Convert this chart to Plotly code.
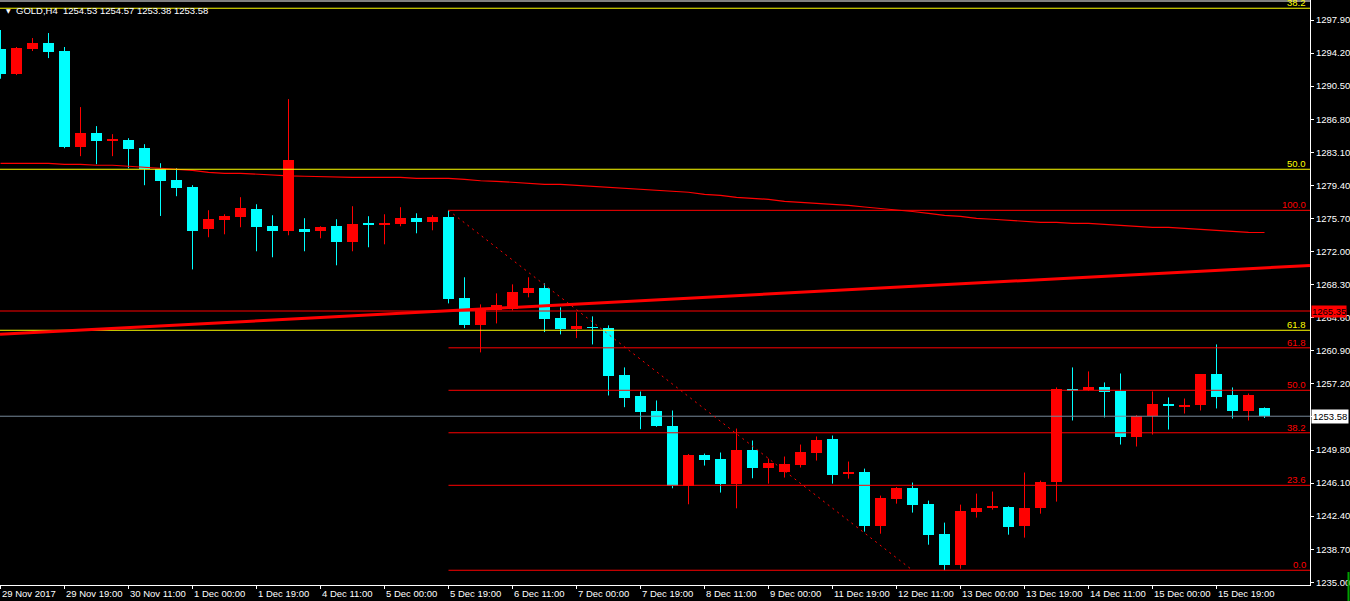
import plotly.graph_objects as go

# ---------------- data ----------------
BAR_INDEX = list(range(80))

OPEN = [1294.65, 1291.89, 1294.65, 1295.32, 1294.43, 1283.68, 1285.24, 1284.40, 1284.46, 1283.56,
        1281.21, 1279.98, 1279.20, 1274.49, 1275.50, 1275.84, 1276.73, 1274.83, 1274.27, 1274.49,
        1274.27, 1274.83, 1273.04, 1275.10, 1275.00, 1275.05, 1275.72, 1275.28, 1275.84, 1266.76,
        1263.74, 1265.42, 1265.53, 1267.32, 1267.88, 1264.52, 1263.29, 1263.50, 1263.40, 1258.14,
        1255.79, 1254.11, 1252.54, 1245.82, 1249.29, 1248.84, 1246.04, 1249.85, 1247.84, 1247.39,
        1248.17, 1249.52, 1251.08, 1247.20, 1247.39, 1241.34, 1244.36, 1245.60, 1243.80, 1240.44,
        1236.97, 1242.91, 1243.40, 1243.47, 1241.34, 1243.36, 1246.27, 1256.60, 1256.46, 1256.80,
        1256.35, 1251.31, 1253.55, 1255.00, 1254.70, 1254.78, 1258.25, 1255.90, 1254.11, 1254.53]
HIGH = [1296.78, 1294.88, 1295.88, 1296.44, 1294.88, 1288.16, 1286.03, 1285.13, 1284.68, 1284.01,
        1281.88, 1281.32, 1279.42, 1276.62, 1276.17, 1278.08, 1277.29, 1276.06, 1289.05, 1275.73,
        1274.83, 1275.61, 1277.07, 1275.95, 1276.17, 1276.96, 1276.28, 1276.06, 1276.61, 1269.12,
        1266.09, 1267.32, 1268.33, 1269.12, 1268.44, 1265.76, 1265.20, 1264.75, 1263.74, 1259.04,
        1256.35, 1255.34, 1254.22, 1249.35, 1249.40, 1249.52, 1252.20, 1250.86, 1248.84, 1249.07,
        1250.41, 1251.31, 1251.42, 1248.51, 1247.72, 1244.70, 1245.65, 1246.16, 1244.14, 1241.68,
        1243.69, 1244.92, 1245.15, 1243.50, 1247.28, 1246.38, 1256.80, 1259.04, 1258.59, 1257.36,
        1258.36, 1253.70, 1256.35, 1255.68, 1255.56, 1258.30, 1261.61, 1256.80, 1256.12, 1254.57]
LOW = [1291.33, 1291.74, 1294.43, 1293.64, 1283.56, 1282.67, 1281.77, 1282.67, 1281.32, 1279.42,
       1275.98, 1278.19, 1270.00, 1273.60, 1273.93, 1274.72, 1272.03, 1271.36, 1273.82, 1272.03,
       1273.48, 1270.46, 1272.03, 1272.48, 1272.81, 1274.83, 1274.04, 1274.38, 1266.20, 1263.44,
       1260.72, 1263.96, 1265.42, 1266.88, 1262.99, 1262.73, 1262.32, 1261.61, 1255.90, 1254.59,
       1252.13, 1252.40, 1245.52, 1243.73, 1248.06, 1245.04, 1243.28, 1246.64, 1246.04, 1246.72,
       1247.84, 1248.62, 1246.04, 1246.60, 1240.67, 1240.44, 1243.80, 1242.80, 1239.21, 1236.35,
       1236.52, 1242.24, 1243.13, 1240.33, 1240.00, 1242.68, 1244.03, 1253.10, 1256.40, 1253.44,
       1250.41, 1250.19, 1251.53, 1252.09, 1253.88, 1254.22, 1254.45, 1253.32, 1253.10, 1253.38]
CLOSE = [1291.89, 1294.76, 1295.32, 1294.32, 1283.68, 1285.24, 1284.35, 1284.45, 1283.45, 1281.21,
         1279.87, 1279.08, 1274.27, 1275.61, 1275.95, 1276.85, 1274.72, 1274.27, 1282.22, 1274.16,
         1274.72, 1273.04, 1275.05, 1275.00, 1275.10, 1275.72, 1275.28, 1275.84, 1266.66, 1263.74,
         1265.64, 1265.98, 1267.44, 1267.88, 1264.41, 1263.29, 1263.63, 1263.45, 1258.06, 1255.60,
         1254.03, 1252.46, 1245.82, 1249.29, 1248.73, 1246.04, 1249.85, 1247.84, 1248.40, 1248.29,
         1249.63, 1250.97, 1247.05, 1247.25, 1241.34, 1244.47, 1245.60, 1243.70, 1240.33, 1236.97,
         1243.02, 1243.36, 1243.45, 1241.23, 1243.36, 1246.27, 1256.57, 1256.50, 1256.80, 1256.24,
         1251.31, 1253.66, 1255.00, 1254.67, 1254.80, 1258.25, 1255.68, 1254.22, 1256.01, 1253.58]

MA = [1281.87, 1281.87, 1281.87, 1281.87, 1281.76, 1281.76, 1281.65, 1281.65, 1281.54, 1281.42,
      1281.31, 1281.20, 1281.09, 1280.86, 1280.75, 1280.75, 1280.64, 1280.53, 1280.47, 1280.42,
      1280.36, 1280.30, 1280.30, 1280.30, 1280.30, 1280.30, 1280.19, 1280.19, 1280.19, 1280.08,
      1279.92, 1279.86, 1279.75, 1279.63, 1279.52, 1279.52, 1279.41, 1279.30, 1279.19, 1279.07,
      1278.96, 1278.85, 1278.74, 1278.63, 1278.40, 1278.29, 1278.07, 1277.96, 1277.84, 1277.62,
      1277.51, 1277.40, 1277.28, 1277.17, 1276.98, 1276.84, 1276.65, 1276.48, 1276.28, 1276.05,
      1275.94, 1275.72, 1275.61, 1275.50, 1275.38, 1275.27, 1275.27, 1275.16, 1275.16, 1275.05,
      1274.94, 1274.82, 1274.71, 1274.71, 1274.60, 1274.49, 1274.38, 1274.26, 1274.15, 1274.13]

TIME_TICK_INDEX = [0, 4, 8, 12, 16, 20, 24, 28, 32, 36, 40, 44, 48, 52, 56, 60, 64, 68, 72, 76]
TIME_TICK_LABELS = ["29 Nov 2017", "29 Nov 19:00", "30 Nov 11:00", "1 Dec 00:00", "1 Dec 19:00",
                    "4 Dec 11:00", "5 Dec 00:00", "5 Dec 19:00", "6 Dec 11:00", "7 Dec 00:00",
                    "7 Dec 19:00", "8 Dec 11:00", "9 Dec 00:00", "11 Dec 19:00", "12 Dec 11:00",
                    "13 Dec 00:00", "13 Dec 19:00", "14 Dec 11:00", "15 Dec 00:00", "15 Dec 19:00"]

PRICE_TICKS = [1235.00, 1238.70, 1242.40, 1246.10, 1249.80, 1253.50, 1257.20, 1260.90, 1264.60,
               1268.30, 1272.00, 1275.70, 1279.40, 1283.10, 1286.80, 1290.50, 1294.20, 1297.90]
# 1253.50 is hidden behind the bid price box in the reference
PRICE_TICK_LABELS = ["1235.00", "1238.70", "1242.40", "1246.10", "1249.80", "", "1257.20",
                     "1260.90", "1264.60", "1268.30", "1272.00", "1275.70", "1279.40", "1283.10",
                     "1286.80", "1290.50", "1294.20", "1297.90"]

# red Fibonacci retracement (anchored on bars)
FIB_LEVELS = [0.0, 23.6, 38.2, 50.0, 61.8, 100.0]
FIB_LEVEL_LABELS = ["0.0", "23.6", "38.2", "50.0", "61.8", "100.0"]
FIB_START_BAR = 28
FIB_END_BAR = 57
FIB_HIGH = 1276.61
FIB_LOW = 1236.35

# yellow Fibonacci retracement (anchors off screen)
FIB2_LEVELS = [38.2, 50.0, 61.8]
FIB2_LEVEL_LABELS = ["38.2", "50.0", "61.8"]
FIB2_P0 = 1357.52
FIB2_P100 = 1204.89

# rising trend line anchors (bar index, price)
TREND_BARS = [-0.03, 81.84]
TREND_PRICES = [1262.74, 1270.44]

HLINE_PRICE = 1265.35
HLINE_LABEL = "1265.35"
BID = 1253.58
BID_LABEL = "1253.58"
HEADER = "GOLD,H4  1254.53 1254.57 1253.38 1253.58"

# ---------------- figure ----------------
W, H = 1350, 601
ML, MR, MT, MB = 0, 40, 0, 16
PLOT_W = W - ML - MR
PLOT_H = H - MT - MB
X_MIN = -0.5 / 16
X_MAX = X_MIN + PLOT_W / 16
Y_MAX = 1297.90 + 20 / 8.94
Y_MIN = Y_MAX - PLOT_H / 8.94

RED = "#FF0000"
CYAN = "#00FFFF"
YELLOW = "#FFFF00"
FONT = "Liberation Sans"
FS = 9.5

fig = go.Figure()

up = [i for i in BAR_INDEX if CLOSE[i] >= OPEN[i]]
dn = [i for i in BAR_INDEX if CLOSE[i] < OPEN[i]]


def wick_xy(idx):
    xs, ys = [], []
    for i in idx:
        xs += [i, i, None]
        ys += [LOW[i], HIGH[i], None]
    return xs, ys


for idx, col in ((up, RED), (dn, CYAN)):
    xs, ys = wick_xy(idx)
    fig.add_trace(go.Scatter(x=xs, y=ys, mode="lines", line=dict(color=col, width=1),
                             hoverinfo="skip", showlegend=False))
    fig.add_trace(go.Bar(
        x=idx,
        base=[min(OPEN[i], CLOSE[i]) for i in idx],
        y=[max(abs(CLOSE[i] - OPEN[i]), 0.11) for i in idx],
        width=0.6875,
        marker=dict(color=col, line=dict(width=0)),
        hoverinfo="skip", showlegend=False))

# moving average
fig.add_trace(go.Scatter(x=BAR_INDEX, y=MA, mode="lines", line=dict(color=RED, width=1.2),
                         hoverinfo="skip", showlegend=False))

shapes = []
annotations = []

# top border line
shapes.append(dict(type="line", xref="paper", yref="paper", x0=0, x1=1, y0=1 - 1.0 / PLOT_H,
                   y1=1 - 1.0 / PLOT_H, line=dict(color="white", width=1), layer="above"))

# yellow fib lines
for lv, lab in zip(FIB2_LEVELS, FIB2_LEVEL_LABELS):
    p = FIB2_P0 + (FIB2_P100 - FIB2_P0) * lv / 100.0
    shapes.append(dict(type="line", xref="x", yref="y", x0=X_MIN, x1=X_MAX, y0=p, y1=p,
                       line=dict(color=YELLOW, width=1), layer="above"))
    annotations.append(dict(x=X_MAX, y=p, xref="x", yref="y", text=lab, showarrow=False,
                            xanchor="right", yanchor="bottom", xshift=-2, yshift=-2,
                            font=dict(family=FONT, size=FS, color=YELLOW)))

# horizontal line and bid line
shapes.append(dict(type="line", xref="x", yref="y", x0=X_MIN, x1=X_MAX, y0=HLINE_PRICE,
                   y1=HLINE_PRICE, line=dict(color=RED, width=1), layer="above"))
shapes.append(dict(type="line", xref="x", yref="y", x0=X_MIN, x1=X_MAX, y0=BID, y1=BID,
                   line=dict(color="#778899", width=1), layer="above"))

# red fib
for lv, lab in zip(FIB_LEVELS, FIB_LEVEL_LABELS):
    p = FIB_LOW + (FIB_HIGH - FIB_LOW) * lv / 100.0
    shapes.append(dict(type="line", xref="x", yref="y", x0=FIB_START_BAR, x1=X_MAX, y0=p, y1=p,
                       line=dict(color=RED, width=1), layer="above"))
    annotations.append(dict(x=X_MAX, y=p, xref="x", yref="y", text=lab, showarrow=False,
                            xanchor="right", yanchor="bottom", xshift=-2, yshift=-2,
                            font=dict(family=FONT, size=FS, color=RED)))
shapes.append(dict(type="line", xref="x", yref="y", x0=FIB_START_BAR, x1=FIB_END_BAR,
                   y0=FIB_HIGH, y1=FIB_LOW, line=dict(color=RED, width=1, dash="2px,4px"),
                   layer="above"))

# trend line
shapes.append(dict(type="line", xref="x", yref="y", x0=TREND_BARS[0], x1=TREND_BARS[1],
                   y0=TREND_PRICES[0], y1=TREND_PRICES[1], line=dict(color=RED, width=3),
                   layer="above"))

# small green marker at bottom right
shapes.append(dict(type="line", xref="paper", yref="paper", x0=(1348.5 - ML) / PLOT_W,
                   x1=(1348.5 - ML) / PLOT_W, y0=(585 - 572) / PLOT_H, y1=(585 - 601) / PLOT_H,
                   line=dict(color="#00A000", width=2), layer="above"))

# price boxes on axis
annotations.append(dict(x=1, y=HLINE_PRICE, xref="paper", yref="y", text=HLINE_LABEL,
                        showarrow=False, xanchor="left", yanchor="middle", xshift=1,
                        bgcolor=RED, borderpad=0,
                        font=dict(family=FONT, size=FS, color="#000000")))
annotations.append(dict(x=1, y=BID, xref="paper", yref="y", text=BID_LABEL,
                        showarrow=False, xanchor="left", yanchor="middle", xshift=1,
                        bgcolor="white", borderpad=1,
                        font=dict(family=FONT, size=FS, color="#000000")))

# header
annotations.append(dict(x=4.0 / PLOT_W, y=1 - 10.5 / PLOT_H, xref="paper", yref="paper",
                        text="▼", showarrow=False, xanchor="left", yanchor="middle",
                        font=dict(family="DejaVu Sans", size=6, color="white")))
annotations.append(dict(x=14.0 / PLOT_W, y=1 - 10.0 / PLOT_H, xref="paper", yref="paper",
                        text=HEADER, showarrow=False, xanchor="left", yanchor="middle",
                        font=dict(family=FONT, size=FS, color="white")))

# time labels (left aligned at ticks)
for ti, lab in zip(TIME_TICK_INDEX, TIME_TICK_LABELS):
    annotations.append(dict(x=ti, y=-(593 - 585) / PLOT_H, xref="x", yref="paper", text=lab,
                            showarrow=False, xanchor="left", yanchor="middle", xshift=-1,
                            font=dict(family=FONT, size=FS, color="white")))

fig.update_layout(
    width=W, height=H, autosize=False,
    margin=dict(l=ML, r=MR, t=MT, b=MB, pad=0),
    paper_bgcolor="black", plot_bgcolor="black",
    barmode="overlay", bargap=0,
    showlegend=False,
    shapes=shapes, annotations=annotations,
    xaxis=dict(range=[X_MIN, X_MAX], showgrid=False, zeroline=False,
               showline=True, linecolor="white", linewidth=1,
               tickmode="array", tickvals=TIME_TICK_INDEX, ticks="outside", ticklen=3,
               tickcolor="white", showticklabels=False, fixedrange=True),
    yaxis=dict(range=[Y_MIN, Y_MAX], side="right", showgrid=False, zeroline=False,
               showline=True, linecolor="white", linewidth=1,
               tickmode="array", tickvals=PRICE_TICKS, ticktext=PRICE_TICK_LABELS,
               ticks="outside", ticklen=3, tickcolor="white",
               tickfont=dict(family=FONT, size=FS, color="white"), fixedrange=True),
)

fig.write_html("out.html", config={"displayModeBar": False},
               post_script="document.body.style.margin='0';document.body.style.background='black';")
